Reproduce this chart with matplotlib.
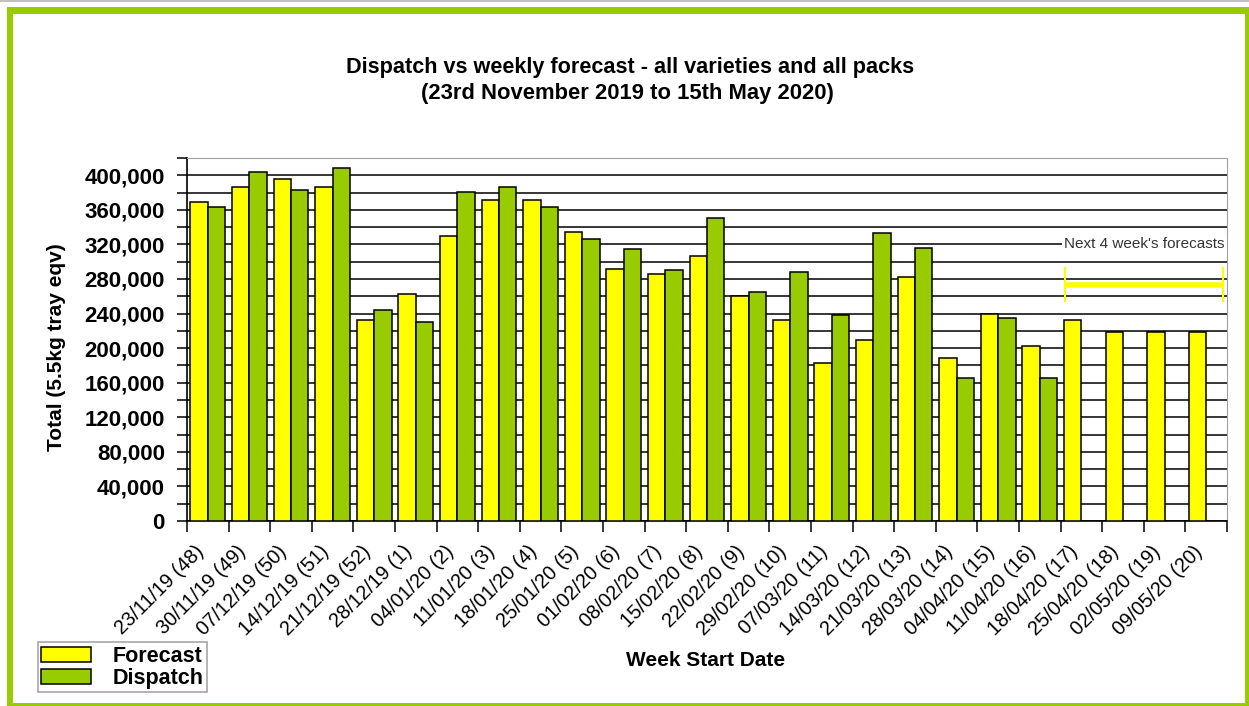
import matplotlib
matplotlib.use("Agg")

import matplotlib.pyplot as plt
import matplotlib.ticker as mticker
from matplotlib.patches import Rectangle
import numpy as np

plt.rcParams["font.family"] = ["Liberation Sans", "DejaVu Sans"]

# ── data ──────────────────────────────────────────
weeks = [
    "23/11/19 (48)", "30/11/19 (49)", "07/12/19 (50)", "14/12/19 (51)",
    "21/12/19 (52)", "28/12/19 (1)", "04/01/20 (2)", "11/01/20 (3)",
    "18/01/20 (4)", "25/01/20 (5)", "01/02/20 (6)", "08/02/20 (7)",
    "15/02/20 (8)", "22/02/20 (9)", "29/02/20 (10)", "07/03/20 (11)",
    "14/03/20 (12)", "21/03/20 (13)", "28/03/20 (14)", "04/04/20 (15)",
    "11/04/20 (16)", "18/04/20 (17)", "25/04/20 (18)", "02/05/20 (19)",
    "09/05/20 (20)",
]
forecast = [
    369400, 386000, 395300, 386400, 232200, 263200, 329500, 371300,
    370900, 334900, 291100, 285700, 306600, 260800, 232200, 182900,
    209300, 282200, 188700, 239900, 202000, 232600, 218600, 218600,
    218600,
]
dispatch = [
    363600, 403500, 382600, 409000, 243800, 230600, 380600, 386000,
    363600, 326000, 314300, 290700, 350400, 264700, 287600, 238800,
    332900, 316300, 165500, 234500, 165500, None, None, None, None,
]

COLOR_FORECAST = "#ffff00"
COLOR_DISPATCH = "#99cc00"
COLOR_FRAME = "#99cc00"

W, H = 1249, 706
fig = plt.figure(figsize=(W / 100, H / 100), dpi=100, facecolor="white")


def px_rect(x0, y0, x1, y1, color):
    """filled rectangle in pixel coords (origin top-left)"""
    fig.add_artist(Rectangle((x0 / W, 1 - y1 / H), (x1 - x0) / W, (y1 - y0) / H,
                             transform=fig.transFigure, facecolor=color,
                             edgecolor="none"))


# ── page frame ──
px_rect(0, 0, W, 2, "#c0c0c0")
px_rect(7, 7, W, 14, COLOR_FRAME)        # top
px_rect(7, 7, 13, H, COLOR_FRAME)        # left
px_rect(1245, 7, W, H, COLOR_FRAME)      # right
px_rect(7, 703, W, H, COLOR_FRAME)       # bottom

ax = fig.add_axes([187 / W, 1 - 521 / H, 1040 / W, 363 / H])

n = len(weeks)
x = np.arange(n) + 0.5
bw = 0.42
fc_vals = np.array(forecast, dtype=float)
dp_vals = np.array([np.nan if v is None else v for v in dispatch], dtype=float)

ax.bar(x - bw / 2, fc_vals, width=bw, color=COLOR_FORECAST, edgecolor="black",
       linewidth=1.1, label="Forecast", zorder=3)
ax.bar(x + bw / 2, dp_vals, width=bw, color=COLOR_DISPATCH, edgecolor="black",
       linewidth=1.1, label="Dispatch", zorder=3)

ax.set_xlim(0, n)
ax.set_ylim(0, 420000)

# y axis
ax.yaxis.set_major_locator(mticker.MultipleLocator(40000))
ax.yaxis.set_minor_locator(mticker.MultipleLocator(20000))
ax.yaxis.set_major_formatter(mticker.FuncFormatter(lambda v, p: f"{v:,.0f}"))
ax.tick_params(axis="y", which="both", direction="out", length=7, width=1.1,
               labelsize=16, pad=9)
for lab in ax.get_yticklabels():
    lab.set_fontweight("bold")
ax.grid(axis="y", which="both", color="black", linewidth=1.1, zorder=0)

# x axis: ticks at group boundaries, labels at group centres
ax.set_xticks(np.arange(n + 1))
ax.set_xticklabels([])
ax.set_xticks(x, minor=True)
ax.set_xticklabels(weeks, minor=True, rotation=45, ha="right", va="top",
                   fontsize=14.3)
ax.tick_params(axis="x", which="major", direction="out", length=8, width=1.1)
ax.tick_params(axis="x", which="minor", length=0, pad=15)
ax.set_axisbelow(True)

ax.spines["top"].set_color("#a0a0a0")
ax.spines["right"].set_color("#a0a0a0")
ax.spines["left"].set_linewidth(1.2)
ax.spines["bottom"].set_linewidth(1.2)

# ── titles ──
fig.text(630 / W, 1 - 67 / H,
         "Dispatch vs weekly forecast - all varieties and all packs",
         ha="center", va="center", fontsize=15.6, fontweight="bold")
fig.text(627 / W, 1 - 93 / H, "(23rd November 2019 to 15th May 2020)",
         ha="center", va="center", fontsize=15.8, fontweight="bold")
fig.text(57 / W, 1 - 347 / H, "Total (5.5kg tray eqv)", rotation=90,
         ha="center", va="center", fontsize=15, fontweight="bold")
fig.text(706 / W, 1 - 660 / H, "Week Start Date", ha="center", va="center",
         fontsize=15, fontweight="bold")

# ── next 4 weeks annotation ──
ax.text(n - 0.05, 320000, "Next 4 week's forecasts", ha="right", va="center",
        fontsize=11, color="#333333", zorder=4,
        bbox=dict(facecolor="white", edgecolor="none", pad=1.5))
ax.plot([n - 3.9, n - 0.1], [272500, 272500], color=COLOR_FORECAST,
        linewidth=4, zorder=4, solid_capstyle="butt")
for xe in (n - 3.9, n - 0.1):
    ax.plot([xe, xe], [254000, 293000], color=COLOR_FORECAST, linewidth=1.5,
            zorder=4)

# ── legend ──
leg = fig.legend(loc="lower left", bbox_to_anchor=(38 / W, 1 - 692 / H),
                 prop={"weight": "bold", "size": 15.5},
                 frameon=True, fancybox=False, edgecolor="#909090",
                 handlelength=2.3, handleheight=0.7, handletextpad=1.0,
                 borderpad=0.15, labelspacing=0.05, borderaxespad=0)
leg.get_frame().set_linewidth(1.2)

fig.savefig("out.png", dpi=100, facecolor="white")
